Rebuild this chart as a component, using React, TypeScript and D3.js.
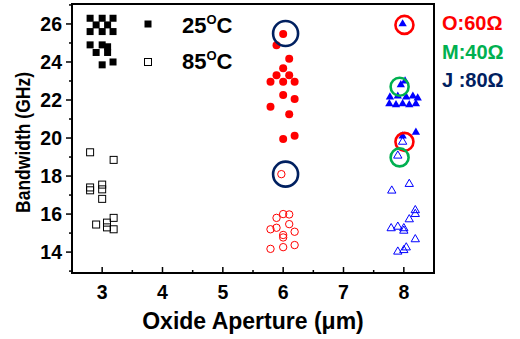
import * as d3 from 'd3'
import React from 'react'

// 25 C, filled squares
const sq25 = [
  [2.8, 26.3], [3.0, 26.3], [3.18, 26.3], [2.9, 25.95], [3.09, 25.95],
  [2.8, 25.6], [3.0, 25.6], [3.18, 25.6], [2.8, 24.9], [3.0, 24.9],
  [3.09, 24.8], [2.9, 24.5], [3.09, 24.5], [3.18, 24.0], [3.0, 23.85],
]
// 85 C, open squares
const sq85 = [
  [2.8, 19.25], [3.19, 18.85], [2.8, 17.4], [2.8, 17.25], [3.0, 17.55],
  [3.0, 17.3], [3.0, 16.8], [3.19, 15.8], [2.9, 15.45], [3.08, 15.55],
  [3.08, 15.3], [3.19, 15.2],
]
const circ25 = [
  [6.0, 25.47], [5.89, 24.88], [6.1, 24.17], [6.0, 23.67], [5.89, 23.3],
  [6.1, 23.3], [5.79, 22.96], [6.0, 22.96], [6.19, 22.96], [6.0, 22.26],
  [6.19, 22.05], [5.79, 21.65], [6.1, 21.25], [6.0, 19.95], [6.19, 20.12],
]
const circ85 = [
  [5.97, 18.1], [5.89, 15.8], [6.0, 16.0], [6.1, 15.98], [6.1, 15.47],
  [5.89, 15.28], [5.79, 15.2], [6.19, 15.07], [6.0, 14.9], [6.0, 14.77],
  [5.79, 14.17], [6.0, 14.26], [6.19, 14.37],
]
const tri25 = [
  [7.98, 26.0], [7.95, 22.8], [8.02, 23.0], [7.77, 22.15], [7.9, 22.2],
  [8.04, 22.15], [8.15, 22.2], [8.23, 22.1], [7.76, 21.8], [7.87, 21.75],
  [7.98, 21.8], [8.09, 21.75], [8.2, 21.8], [7.98, 20.1], [8.2, 20.3],
]
const tri85 = [
  [7.98, 19.8], [7.9, 19.07], [7.8, 17.23], [8.09, 17.58], [8.19, 16.2],
  [8.19, 16.0], [8.09, 15.72], [7.79, 15.25], [7.9, 15.33], [8.0, 15.25],
  [8.0, 15.12], [8.19, 14.67], [7.9, 14.02], [8.0, 14.1], [8.04, 14.24],
]
// highlighted devices
const rings = [
  { x: 6.04, y: 25.5, c: '#002060', r: 12.5 },
  { x: 6.04, y: 18.1, c: '#002060', r: 12.5 },
  { x: 8.01, y: 25.95, c: '#ff0000', r: 9 },
  { x: 8.01, y: 19.8, c: '#ff0000', r: 9 },
  { x: 7.93, y: 22.7, c: '#00b050', r: 9 },
  { x: 7.93, y: 18.98, c: '#00b050', r: 9 },
]
const xTicks = [3, 4, 5, 6, 7, 8]
const yTicks = [14, 16, 18, 20, 22, 24, 26]
const notes = [
  { t: 'O:60Ω', c: '#ff0000' },
  { t: 'M:40Ω', c: '#00b050' },
  { t: 'J :80Ω', c: '#002060' },
]

const L = 72, R = 434, T = 4, B = 273
const font = 'Liberation Sans, Arial, sans-serif'

export default function App() {
  const x = d3.scaleLinear().domain([2.5, 8.5]).range([L, R])
  const y = d3.scaleLinear().domain([12.9, 27.05]).range([B, T])
  const tri = d3.symbol().type(d3.symbolTriangle).size(30)()

  return (
    <svg width={520} height={339} style={{ position: 'absolute', left: 0, top: 0 }}
      fontFamily={font} fontWeight="bold">
      <rect x={L} y={T} width={R - L} height={B - T} fill="none" stroke="#000" strokeWidth={2} />
      {d3.range(3, 8.01, 0.5).map(v => (
        <line key={'xt' + v} x1={x(v)} x2={x(v)} y1={B} y2={B - (v % 1 === 0 ? 6 : 3)}
          stroke="#000" strokeWidth={1.5} />
      ))}
      {d3.range(13, 27.01, 1).map(v => (
        <line key={'yt' + v} x1={L} x2={L - (v % 2 === 0 ? 6 : 3)} y1={y(v)} y2={y(v)}
          stroke="#000" strokeWidth={1.5} />
      ))}
      {xTicks.map(v => (
        <text key={'xl' + v} x={x(v)} y={299} textAnchor="middle" fontSize={19.5}>{v}</text>
      ))}
      {yTicks.map(v => (
        <text key={'yl' + v} x={62} y={y(v) + 7} textAnchor="end" fontSize={19.5}>{v}</text>
      ))}
      <text x={(L + R) / 2} y={329} textAnchor="middle" fontSize={23}>Oxide Aperture (μm)</text>
      <text transform={`translate(30,${(T + B) / 2 + 4}) rotate(-90)`} textAnchor="middle" fontSize={20}
        textLength={141} lengthAdjust="spacingAndGlyphs">
        Bandwidth (GHz)
      </text>

      {sq25.map((d, i) => (
        <rect key={'a' + i} x={x(d[0]) - 3.5} y={y(d[1]) - 3.5} width={7} height={7} fill="#000" />
      ))}
      {sq85.map((d, i) => (
        <rect key={'b' + i} x={x(d[0]) - 3.5} y={y(d[1]) - 3.5} width={7} height={7}
          fill="none" stroke="#000" strokeWidth={1} />
      ))}
      {circ25.map((d, i) => (
        <circle key={'c' + i} cx={x(d[0])} cy={y(d[1])} r={4} fill="#ff0000" />
      ))}
      {circ85.map((d, i) => (
        <circle key={'d' + i} cx={x(d[0])} cy={y(d[1])} r={3.7} fill="none" stroke="#ff0000" strokeWidth={1} />
      ))}
      {tri25.map((d, i) => (
        <path key={'e' + i} d={tri} transform={`translate(${x(d[0])},${y(d[1])})`} fill="#0000ff" />
      ))}
      {tri85.map((d, i) => (
        <path key={'f' + i} d={tri} transform={`translate(${x(d[0])},${y(d[1])})`}
          fill="none" stroke="#0000ff" strokeWidth={1} />
      ))}
      {rings.map((d, i) => (
        <circle key={'g' + i} cx={x(d.x)} cy={y(d.y)} r={d.r} fill="none" stroke={d.c} strokeWidth={2.6} />
      ))}

      <rect x={144.5} y={20.5} width={7} height={7} fill="#000" />
      <text x={182} y={33} fontSize={22}>25<tspan dy={-9} fontSize={13}>O</tspan><tspan dy={9}>C</tspan></text>
      <rect x={144.5} y={58.5} width={7} height={7} fill="none" stroke="#000" strokeWidth={1} />
      <text x={182} y={69} fontSize={22}>85<tspan dy={-9} fontSize={13}>O</tspan><tspan dy={9}>C</tspan></text>

      {notes.map((n, i) => (
        <text key={'n' + i} x={442} y={30 + i * 28.5} fontSize={20} fill={n.c}>{n.t}</text>
      ))}
    </svg>
  )
}
